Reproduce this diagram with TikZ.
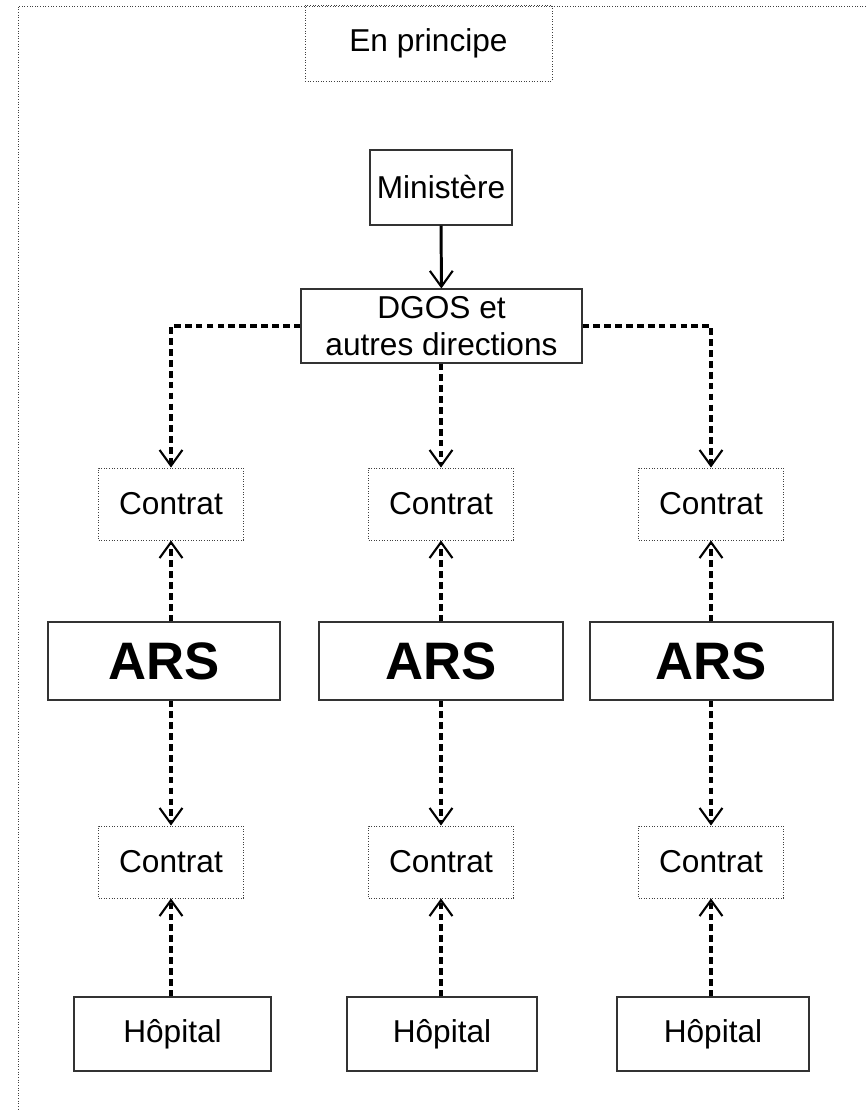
\documentclass[tikz,border=0pt]{standalone}
\usepackage{fontspec}
\setmainfont{Liberation Sans}
\usetikzlibrary{arrows.meta}

\tikzset{
	solidbox/.style={draw=black!80, line width=0.6pt, inner sep=0pt, align=center, font=\fontsize{18}{21}\selectfont},
	dotbox/.style={solidbox, draw=black!75, line width=0.5pt, densely dotted},
	arsbox/.style={solidbox, font=\fontsize{30}{34}\selectfont\bfseries},
	link/.style={line width=2pt, dash pattern=on 3.8pt off 2.4pt, -{Straight Barb[length=9pt,width=13pt,line width=1.2pt]}},
	plainlink/.style={line width=1.7pt, -{Straight Barb[length=9pt,width=13pt,line width=1.2pt]}}
}

\begin{document}
\begin{tikzpicture}
		%%%%% START %%%%%
		
		\useasboundingbox (0, 0) rectangle (17.32, -22.22);
		\draw[densely dotted, line width=0.5pt, color=black!75] (17.32, -0.12) -- (0.36, -0.12) -- (0.36, -22.22);
		
		\node[dotbox, minimum width=4.94cm, minimum height=1.52cm] (principe) at (8.57, -0.86) {En principe};
		
		\node[solidbox, minimum width=2.84cm, minimum height=1.5cm] (ministere) at (8.82, -3.75) {Ministère};
		\node[solidbox, minimum width=5.62cm, minimum height=1.48cm] (dgos) at (8.83, -6.52) {DGOS et\\autres directions};
		
		\node[dotbox, minimum width=2.9cm, minimum height=1.44cm] (haut1) at (3.42, -10.08) {Contrat};
		\node[dotbox, minimum width=2.9cm, minimum height=1.44cm] (haut2) at (8.82, -10.08) {Contrat};
		\node[dotbox, minimum width=2.9cm, minimum height=1.44cm] (haut3) at (14.22, -10.08) {Contrat};
		
		\node[arsbox, minimum width=4.64cm, minimum height=1.56cm] (ars1) at (3.28, -13.22) {ARS};
		\node[arsbox, minimum width=4.88cm, minimum height=1.56cm] (ars2) at (8.82, -13.22) {ARS};
		\node[arsbox, minimum width=4.86cm, minimum height=1.56cm] (ars3) at (14.23, -13.22) {ARS};
		
		\node[dotbox, minimum width=2.9cm, minimum height=1.44cm] (bas1) at (3.42, -17.24) {Contrat};
		\node[dotbox, minimum width=2.9cm, minimum height=1.44cm] (bas2) at (8.82, -17.24) {Contrat};
		\node[dotbox, minimum width=2.9cm, minimum height=1.44cm] (bas3) at (14.22, -17.24) {Contrat};
		
		\node[solidbox, minimum width=3.94cm, minimum height=1.48cm] (hop1) at (3.45, -20.68) {Hôpital};
		\node[solidbox, minimum width=3.8cm, minimum height=1.48cm] (hop2) at (8.84, -20.68) {Hôpital};
		\node[solidbox, minimum width=3.84cm, minimum height=1.48cm] (hop3) at (14.26, -20.68) {Hôpital};
		
		\draw[plainlink] (ministere) -- (dgos);
		
		\draw[link] (dgos.west) -| (haut1.north);
		\draw[link] (dgos.south -| haut2) -- (haut2.north);
		\draw[link] (dgos.east) -| (haut3.north);
		
		\foreach \i in {1,2,3} {
			\draw[link] (haut\i |- ars\i.north) -- (haut\i.south);
			\draw[link] (bas\i |- ars\i.south) -- (bas\i.north);
			\draw[link] (bas\i |- hop\i.north) -- (bas\i.south);
		}
		
		%%%%% END %%%%%
	\end{tikzpicture}
\end{document}
